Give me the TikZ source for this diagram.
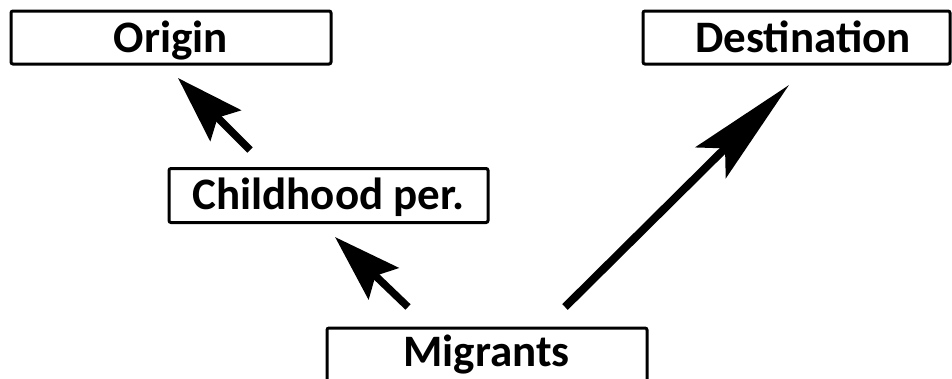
\documentclass[tikz,border=0pt]{standalone}
\usepackage{fontspec}
\setmainfont{Carlito}
\usetikzlibrary{arrows.meta}
\begin{document}
\begin{tikzpicture}[x=1pt,y=-1pt,
  box/.style={draw, line width=3pt, rounded corners=2pt, minimum height=53pt, inner sep=0pt},
  lbl/.style={inner sep=0pt, anchor=base, font=\bfseries\fontsize{45}{54}\selectfont},
  bigarrow/.style={line width=7.5pt, -{Stealth[length=67pt, width=43pt, inset=11pt]}},
  longarrow/.style={line width=8pt, -{Stealth[length=110pt, width=43pt, inset=20pt]}}]
\useasboundingbox (0,0) rectangle (952,378);
% boxes
\node[box, minimum width=320pt] (origin) at (171,37.5) {};
\node[box, minimum width=307pt] (dest) at (796.5,37.5) {};
\node[box, minimum width=319pt, minimum height=54pt] (child) at (328.5,195.5) {};
\node[box, minimum width=320pt, minimum height=54pt] (migr) at (487,355) {};
% labels
\node[lbl] (originlbl) at (171,52.5) {Origin};
\node[lbl] (destlbl) at (803,52.5) {Destination};
\node[lbl] (childlbl) at (328.5,209) {Childhood per.};
\node[lbl] (migrlbl) at (486.5,366.5) {Migrants};
% arrow ends
\coordinate (a1s) at (250,150);
\coordinate (a1e) at (178,78);
\coordinate (a2s) at (408,307);
\coordinate (a2e) at (335,237);
\coordinate (a3s) at (565,307);
\coordinate (a3e) at (789,85);
\draw[bigarrow] (a1s) -- (a1e);
\draw[bigarrow] (a2s) -- (a2e);
\draw[longarrow] (a3s) -- (a3e);
\end{tikzpicture}
\end{document}
